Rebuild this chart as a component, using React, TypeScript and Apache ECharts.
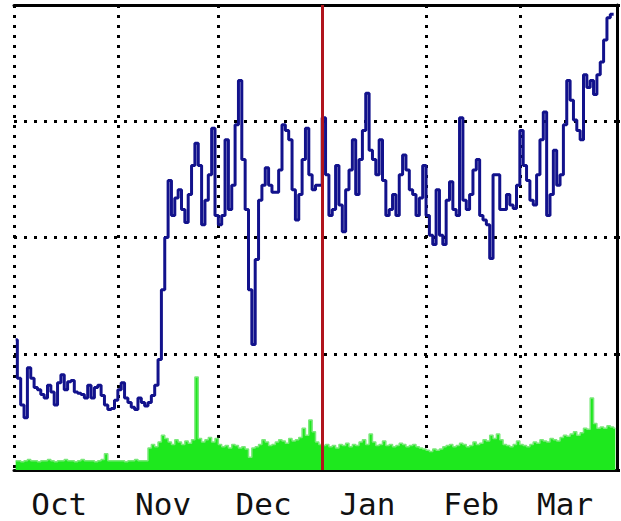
import React, { useEffect, useRef } from "react";
import * as echarts from "echarts";

const months = ["Oct", "Nov", "Dec", "Jan", "Feb", "Mar"];
const monthDays = [31, 30, 31, 31, 28, 29];
const labelDay = 14;

// blue line (outgoing)
const octLine = [112, 79, 56, 45, 88, 79, 71, 69, 65, 62, 73, 67, 56, 75, 82, 69, 76, 77, 67, 66, 65, 62, 73, 62, 71, 73, 64, 56, 52, 53, 60];
const novLine = [69, 75, 62, 58, 54, 52, 62, 58, 55, 58, 64, 73, 95, 155, 200, 249, 219, 234, 241, 224, 213, 237, 262, 281, 262, 211, 232, 254, 294, 219];
const decLine = [211, 219, 284, 224, 245, 297, 335, 267, 224, 155, 108, 181, 232, 245, 260, 245, 239, 239, 258, 297, 292, 284, 241, 215, 237, 267, 294, 254, 241, 245, 245];
const janLine = [303, 254, 219, 224, 262, 228, 205, 241, 258, 284, 237, 267, 292, 324, 275, 267, 254, 284, 249, 219, 224, 237, 219, 254, 271, 258, 241, 237, 219, 234, 262];
const febLine = [219, 202, 194, 241, 202, 194, 232, 248, 224, 219, 303, 232, 224, 237, 258, 267, 219, 215, 211, 182, 254, 254, 224, 224, 237, 228, 225, 245];
const marLine = [292, 262, 249, 232, 228, 254, 284, 308, 219, 237, 275, 245, 254, 297, 335, 318, 301, 292, 284, 340, 329, 335, 323, 340, 351, 370, 389, 392, null];

// green area (incoming)
const octArea = [8, 8, 7, 8, 9, 8, 8, 7, 8, 8, 9, 8, 7, 8, 8, 9, 8, 8, 7, 8, 9, 8, 8, 8, 7, 8, 9, 14, 8, 8, 8];
const novArea = [8, 8, 7, 8, 8, 9, 8, 8, 8, 19, 22, 20, 24, 30, 27, 24, 22, 26, 24, 22, 25, 23, 26, 80, 27, 24, 26, 28, 24, 27];
const decArea = [22, 20, 21, 19, 22, 21, 19, 20, 18, 11, 19, 20, 22, 26, 24, 21, 22, 24, 26, 25, 23, 27, 25, 26, 28, 36, 30, 43, 33, 24, 22];
const janArea = [21, 22, 20, 21, 19, 22, 21, 23, 20, 22, 21, 24, 26, 22, 31, 24, 21, 22, 25, 21, 22, 20, 21, 23, 22, 20, 21, 22, 20, 19, 18];
const febArea = [17, 16, 18, 17, 18, 20, 21, 22, 20, 21, 23, 22, 20, 21, 24, 22, 23, 26, 25, 30, 27, 31, 26, 22, 21, 20, 22, 25];
const marArea = [22, 21, 20, 22, 24, 23, 26, 25, 24, 27, 26, 25, 28, 30, 29, 31, 33, 30, 32, 36, 35, 62, 40, 36, 37, 36, 38, 37, 36];

const yMax = 400;
const yStep = 100;
const yearStartMonth = "Jan";

export default function App() {
  const ref = useRef<HTMLDivElement>(null);
  useEffect(() => {
    if (!ref.current) return;
    const chart = echarts.init(ref.current, undefined, { renderer: "svg" });

    const categories: string[] = [];
    months.forEach((m, i) => {
      for (let d = 1; d <= monthDays[i]; d++) categories.push(`${m}-${d}`);
    });
    const lineData = [...octLine, ...novLine, ...decLine, ...janLine, ...febLine, ...marLine];
    const areaData = [...octArea, ...novArea, ...decArea, ...janArea, ...febArea, ...marArea];
    const yearIndex = categories.indexOf(`${yearStartMonth}-1`);

    const dotted = { color: "#000", width: 3, type: [3, 7] as number[], cap: "butt" as const };

    chart.setOption({
      animation: false,
      backgroundColor: "#ffffff",
      grid: { left: 14, right: 4, top: 5, bottom: 51, containLabel: false },
      xAxis: [
        {
          type: "category",
          data: categories,
          boundaryGap: true,
          axisLine: { show: true, onZero: false, lineStyle: { color: "#050505", width: 3 } },
          axisTick: { show: false },
          splitLine: {
            show: true,
            interval: (_i: number, v: string) => v.endsWith("-1") && v.split("-")[0] !== yearStartMonth,
            lineStyle: dotted,
          },
          axisLabel: {
            show: true,
            interval: (_i: number, v: string) => v.endsWith(`-${labelDay}`),
            formatter: (v: string) => v.split("-")[0],
            fontFamily: "DejaVu Sans Mono",
            fontSize: 31,
            lineHeight: 28,
            color: "#111",
            margin: 20,
          },
        },
        {
          type: "value",
          min: 0,
          max: categories.length,
          position: "top",
          axisLine: { show: true, onZero: false, lineStyle: { color: "#000", width: 3 } },
          axisTick: { show: false },
          axisLabel: { show: false },
          splitLine: { show: false },
        },
      ],
      yAxis: {
        type: "value",
        min: 0,
        max: yMax,
        interval: yStep,
        position: "right",
        axisLine: { show: true, onZero: false, lineStyle: { color: "#000", width: 3 } },
        axisTick: { show: true, inside: false, length: 3, lineStyle: { color: "#000", width: 3 } },
        axisLabel: { show: false },
        splitLine: { show: true, lineStyle: dotted },
      },
      series: [
        {
          type: "line",
          data: areaData,
          step: "middle",
          symbol: "none",
          lineStyle: { color: "#7be87b", width: 1.5 },
          areaStyle: { color: "#1ee81e", opacity: 1 },
          z: 2,
        },
        {
          type: "line",
          data: lineData,
          step: "middle",
          symbol: "none",
          connectNulls: false,
          lineStyle: { color: "#12128c", width: 3 },
          z: 3,
        },
        {
          type: "line",
          xAxisIndex: 1,
          data: [],
          symbol: "none",
          z: 4,
          markLine: {
            silent: true,
            symbol: ["none", "none"],
            label: { show: false },
            lineStyle: { color: "#b0141c", width: 3, type: "solid" },
            data: [{ xAxis: yearIndex }],
          },
        },
      ],
    });
    return () => chart.dispose();
  }, []);
  return (
    <div
      ref={ref}
      style={{ position: "fixed", left: 0, top: 0, width: 621, height: 521 }}
    />
  );
}
